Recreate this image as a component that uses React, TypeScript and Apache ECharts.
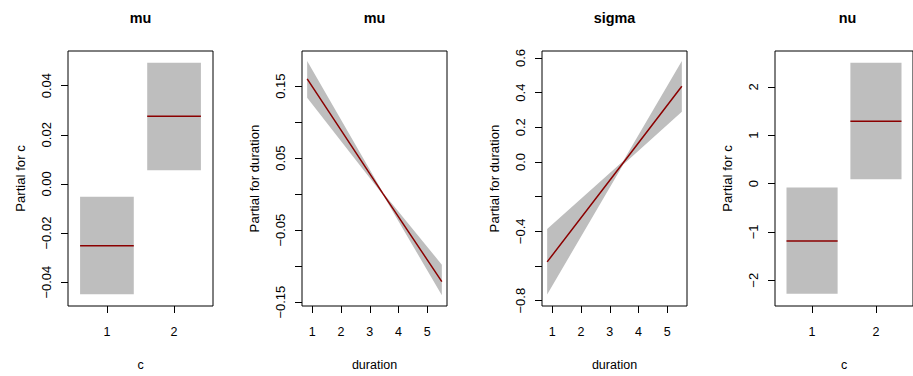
import React, { useEffect, useRef } from "react";
import * as echarts from "echarts";

// ---- Data ----
const panelTitles = ["mu", "mu", "sigma", "nu"];
const yAxisTitles = ["Partial for c", "Partial for duration", "Partial for duration", "Partial for c"];
const xAxisTitles = ["c", "duration", "duration", "c"];

// Panel 1 (mu ~ c)
const cLevels = [1, 2];
const p1Fit = [-0.0252, 0.0275];
const p1Lower = [-0.0449, 0.0056];
const p1Upper = [-0.0052, 0.0493];

// Panel 4 (nu ~ c)
const p4Fit = [-1.19, 1.29];
const p4Lower = [-2.28, 0.087];
const p4Upper = [-0.08, 2.5];

// Panels 2 & 3 (duration)
const durationX = [0.82, 3.47, 5.51];
const p2Fit = [0.16, 0.0, -0.1215];
const p2Upper = [0.185, 0.0015, -0.098];
const p2Lower = [0.134, -0.0015, -0.1405];
const p3Fit = [-0.576, -0.004, 0.437];
const p3Upper = [-0.386, 0.006, 0.582];
const p3Lower = [-0.764, -0.014, 0.29];

// Tick values and labels
const cTicks = [1, 2];
const cTickLabels = ["1", "2"];
const durTicks = [1, 2, 3, 4, 5];
const durTickLabels = ["1", "2", "3", "4", "5"];
const p1YTicks = [-0.04, -0.02, 0, 0.02, 0.04];
const p1YLabelVals = [-0.04, -0.02, 0, 0.02, 0.04];
const p1YLabels = ["\u22120.04", "\u22120.02", "0.00", "0.02", "0.04"];
const p2YTicks = [-0.15, -0.1, -0.05, 0, 0.05, 0.1, 0.15];
const p2YLabelVals = [-0.15, -0.05, 0.05, 0.15];
const p2YLabels = ["\u22120.15", "\u22120.05", "0.05", "0.15"];
const p3YTicks = [-0.8, -0.6, -0.4, -0.2, 0, 0.2, 0.4, 0.6];
const p3YLabelVals = [-0.8, -0.4, 0, 0.2, 0.4, 0.6];
const p3YLabels = ["\u22120.8", "\u22120.4", "0.0", "0.2", "0.4", "0.6"];
const p4YTicks = [-2, -1, 0, 1, 2];
const p4YLabelVals = [-2, -1, 0, 1, 2];
const p4YLabels = ["\u22122", "\u22121", "0", "1", "2"];

// ---- Styling / layout ----
const FONT = "'Liberation Sans', Arial, Helvetica, sans-serif";
const FILL = "#BEBEBE";
const LINE = "#8B0000";
const BOX_HALF = 0.4;
const grids = [
  { left: 68, top: 51, width: 145, height: 260 },
  { left: 302, top: 51, width: 145, height: 260 },
  { left: 542, top: 51, width: 145, height: 260 },
  { left: 775, top: 51, width: 145, height: 260 },
];
const xRanges = [
  [0.42, 2.58],
  [0.64, 5.69],
  [0.64, 5.69],
  [0.42, 2.58],
];
const yRanges = [
  [-0.0497, 0.0541],
  [-0.1554, 0.1988],
  [-0.8305, 0.64],
  [-2.533, 2.742],
];

function labelLookup(vals: number[], labels: string[]) {
  return (v: number) => {
    for (let i = 0; i < vals.length; i++) {
      if (Math.abs(vals[i] - v) < 1e-9) return labels[i];
    }
    return "";
  };
}

function makeX(i: number, ticks: number[], labels: string[]) {
  return {
    type: "value",
    gridIndex: i,
    position: "bottom",
    min: xRanges[i][0],
    max: xRanges[i][1],
    name: xAxisTitles[i],
    nameLocation: "middle",
    nameGap: 52,
    nameTextStyle: { fontFamily: FONT, fontSize: 12.5, color: "#000" },
    axisLine: { show: false, onZero: false },
    axisTick: { show: true, inside: false, length: 7, customValues: ticks, lineStyle: { color: "#000", width: 1 } },
    axisLabel: {
      show: true,
      customValues: ticks,
      margin: 19,
      fontFamily: FONT,
      fontSize: 12.5,
      color: "#000",
      formatter: labelLookup(ticks, labels),
    },
    splitLine: { show: false },
  };
}

function makeY(i: number, ticks: number[], labelVals: number[], labels: string[]) {
  return {
    type: "value",
    gridIndex: i,
    position: "left",
    min: yRanges[i][0],
    max: yRanges[i][1],
    name: yAxisTitles[i],
    nameLocation: "middle",
    nameGap: 41,
    nameTextStyle: { fontFamily: FONT, fontSize: 13.2, color: "#000" },
    axisLine: { show: false, onZero: false },
    axisTick: { show: true, inside: false, length: 7, customValues: ticks, lineStyle: { color: "#000", width: 1 } },
    axisLabel: {
      show: true,
      customValues: labelVals,
      rotate: 90,
      margin: 15,
      fontFamily: FONT,
      fontSize: 13,
      color: "#000",
      formatter: labelLookup(labelVals, labels),
    },
    splitLine: { show: false },
  };
}

function boxSeries(i: number, fit: number[], lower: number[], upper: number[]) {
  return {
    type: "custom",
    xAxisIndex: i,
    yAxisIndex: i,
    clip: false,
    data: cLevels.map((lv, k) => [lv, lower[k], upper[k], fit[k]]),
    encode: { x: 0, y: [1, 2] },
    renderItem: (params: any, api: any) => {
      const lv = api.value(0);
      const lo = api.value(1);
      const hi = api.value(2);
      const f = api.value(3);
      const a = api.coord([lv - BOX_HALF, hi]);
      const b = api.coord([lv + BOX_HALF, lo]);
      const f1 = api.coord([lv - BOX_HALF, f]);
      const f2 = api.coord([lv + BOX_HALF, f]);
      return {
        type: "group",
        children: [
          { type: "rect", shape: { x: a[0], y: a[1], width: b[0] - a[0], height: b[1] - a[1] }, style: { fill: FILL, stroke: null } },
          { type: "line", shape: { x1: f1[0], y1: f1[1], x2: f2[0], y2: f2[1] }, style: { stroke: LINE, lineWidth: 1.5 } },
        ],
      };
    },
  };
}

function ribbonSeries(i: number, xs: number[], lower: number[], upper: number[]) {
  return {
    type: "custom",
    xAxisIndex: i,
    yAxisIndex: i,
    clip: false,
    data: xs.map((x, k) => [x, lower[k], upper[k]]),
    encode: { x: 0, y: [1, 2] },
    renderItem: (params: any, api: any) => {
      if (params.dataIndex !== 0) return null;
      const pts: number[][] = [];
      for (let k = 0; k < xs.length; k++) pts.push(api.coord([xs[k], upper[k]]));
      for (let k = xs.length - 1; k >= 0; k--) pts.push(api.coord([xs[k], lower[k]]));
      return { type: "polygon", shape: { points: pts }, style: { fill: FILL, stroke: null } };
    },
  };
}

function fitLine(i: number, xs: number[], fit: number[]) {
  return {
    type: "line",
    xAxisIndex: i,
    yAxisIndex: i,
    data: xs.map((x, k) => [x, fit[k]]),
    showSymbol: false,
    symbol: "none",
    lineStyle: { color: LINE, width: 1.5 },
    z: 5,
  };
}

export default function App() {
  const ref = useRef<HTMLDivElement>(null);
  useEffect(() => {
    if (!ref.current) return;
    const chart = echarts.init(ref.current, null, { renderer: "svg" });
    const titleEls = grids.map((g, i) => ({
      type: "text",
      x: g.left + g.width / 2,
      y: 18,
      style: {
        text: panelTitles[i],
        fontFamily: FONT,
        fontSize: 14.4,
        fontWeight: "bold",
        fill: "#000",
        textAlign: "center",
        textVerticalAlign: "middle",
      },
    }));
    const option: any = {
      animation: false,
      backgroundColor: "#ffffff",
      grid: grids.map((g) => ({ ...g, show: true, borderColor: "#000", borderWidth: 1, backgroundColor: "transparent", containLabel: false })),
      xAxis: [
        makeX(0, cTicks, cTickLabels),
        makeX(1, durTicks, durTickLabels),
        makeX(2, durTicks, durTickLabels),
        makeX(3, cTicks, cTickLabels),
      ],
      yAxis: [
        makeY(0, p1YTicks, p1YLabelVals, p1YLabels),
        makeY(1, p2YTicks, p2YLabelVals, p2YLabels),
        makeY(2, p3YTicks, p3YLabelVals, p3YLabels),
        makeY(3, p4YTicks, p4YLabelVals, p4YLabels),
      ],
      series: [
        boxSeries(0, p1Fit, p1Lower, p1Upper),
        ribbonSeries(1, durationX, p2Lower, p2Upper),
        fitLine(1, durationX, p2Fit),
        ribbonSeries(2, durationX, p3Lower, p3Upper),
        fitLine(2, durationX, p3Fit),
        boxSeries(3, p4Fit, p4Lower, p4Upper),
      ],
      graphic: titleEls,
    };
    chart.setOption(option);
    return () => chart.dispose();
  }, []);
  return <div ref={ref} style={{ position: "fixed", left: 0, top: 0, width: 913, height: 376, background: "#fff" }} />;
}
